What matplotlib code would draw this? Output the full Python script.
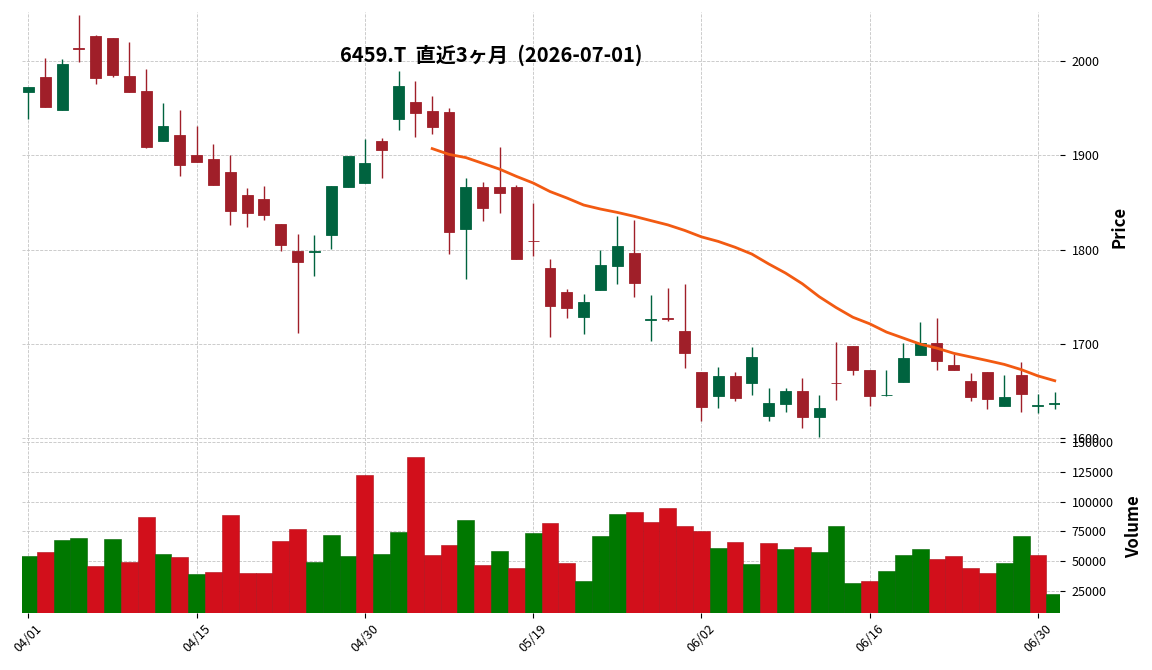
import numpy as np
import pandas as pd
import matplotlib
matplotlib.use("Agg")
import matplotlib.pyplot as plt

plt.rcParams['font.family'] = ['Noto Sans CJK JP', 'DejaVu Sans']

# daily OHLC + volume, 6459.T, 2026-04-01 .. 2026-07-01 (62 sessions)
opens = [1967, 1983, 1948, 2013.5, 2027, 2024, 1984, 1968, 1915, 1922,
         1900, 1896, 1882, 1858, 1853.5, 1827, 1798.5, 1797, 1815, 1866,
         1871, 1915, 1938.5, 1957, 1947, 1945.5, 1822, 1866, 1866, 1866,
         1809.5, 1780, 1754.5, 1729, 1757.5, 1783, 1796, 1725.5, 1727, 1713.5,
         1670, 1645, 1666, 1659, 1624, 1636.5, 1650, 1622, 1658.5, 1697.5,
         1672.5, 1645.5, 1660, 1688.5, 1700.5, 1677.5, 1660.5, 1670, 1634.5, 1666.5,
         1634.5, 1636]
highs = [1972, 2003.5, 2002.5, 2049, 2027.5, 2024, 2020.5, 1992, 1956, 1948,
         1931.5, 1912.5, 1900, 1865, 1867, 1827, 1817, 1816, 1867, 1899,
         1917, 1918, 1989, 1979, 1963, 1950.5, 1876, 1872, 1909, 1869,
         1849, 1790.5, 1758, 1752.5, 1800, 1836, 1831, 1752, 1759, 1764,
         1670, 1675, 1670, 1697, 1653, 1653, 1663.5, 1645.5, 1701.5, 1698,
         1672.5, 1672, 1700.5, 1723, 1727, 1689.5, 1669.5, 1670, 1666.5, 1680.5,
         1647, 1648.5]
lows = [1939, 1951, 1948, 1999, 1976, 1983, 1967, 1908, 1915, 1878,
        1893, 1868, 1826, 1824, 1831, 1798, 1712, 1772, 1801, 1866,
        1871, 1876, 1927, 1919, 1923, 1795, 1769, 1830, 1839, 1790,
        1793, 1707.5, 1727, 1711, 1757, 1764, 1749.5, 1703, 1724, 1674,
        1618, 1632, 1639.5, 1646, 1618, 1627.5, 1610.5, 1601, 1641, 1666.5,
        1634.5, 1645, 1660, 1688, 1672.5, 1672, 1639.5, 1630.5, 1634, 1627.5,
        1626.5, 1630.5]
closes = [1972, 1951, 1996.5, 2013, 1982, 1985, 1967, 1909, 1931.5, 1890,
          1893, 1868, 1841, 1839, 1836.5, 1805, 1787, 1798, 1867, 1899,
          1892, 1906, 1974, 1945, 1930, 1819, 1866, 1844, 1860, 1790,
          1809, 1740.5, 1738.5, 1744.5, 1783.5, 1803.5, 1765, 1726.5, 1726, 1690.5,
          1633.5, 1666, 1643, 1686, 1637.5, 1650, 1622, 1632, 1658, 1672.5,
          1645, 1646, 1685, 1700.5, 1682, 1672.5, 1644, 1642, 1643.5, 1647,
          1635, 1637]
volumes = [54400, 57800, 67800, 69400, 46100, 68600, 49400, 86900, 56100, 53600,
           39400, 41100, 88600, 40300, 40300, 66900, 76900, 49400, 71900, 54400,
           121900, 56100, 74400, 136900, 55300, 63600, 84400, 46900, 58600, 44400,
           73600, 81900, 48600, 33600, 71100, 89400, 91100, 82800, 94400, 79400,
           75300, 61100, 66100, 47800, 65300, 60300, 61900, 57800, 79400, 31900,
           33600, 41900, 55300, 60300, 51900, 54400, 44400, 40300, 48900, 71100,
           55300, 22800]

tick_pos = [0, 10, 20, 30, 40, 50, 60]
tick_labels = ["04/01", "04/15", "04/30", "05/19", "06/02", "06/16", "06/30"]

df = pd.DataFrame({"Open": opens, "High": highs, "Low": lows,
                   "Close": closes, "Volume": volumes})
df["MA25"] = df["Close"].rolling(25).mean()
x = np.arange(len(df))

up_c = "#00633f"
dn_c = "#a01f29"
vol_up = "#007800"
vol_dn = "#d20f1b"

fig = plt.figure(figsize=(11.52, 6.7), dpi=100)
ax = fig.add_axes([0.0191, 0.3418, 0.901, 0.6403])
axv = fig.add_axes([0.0191, 0.0851, 0.901, 0.2567], sharex=ax)

# candles
candle_up = df["Close"] >= df["Open"]
ccol = np.where(candle_up, up_c, dn_c)
ax.vlines(x, df["Low"], df["High"], colors=ccol, linewidth=1.0, zorder=2)
body_bot = np.minimum(df["Open"], df["Close"])
body_h = (df["Close"] - df["Open"]).abs()
ax.bar(x, body_h, width=0.65, bottom=body_bot, color=ccol,
       edgecolor=ccol, linewidth=0.6, zorder=3)

ax.plot(x, df["MA25"], color="#f25a12", linewidth=2.0, zorder=4)

# volume, coloured by close vs previous close
vup = df["Close"].diff().fillna(1) >= 0
vcol = np.where(vup, vol_up, vol_dn)
vedge = np.where(vup, "#006400", "#b00c16")
axv.bar(x, df["Volume"], width=1.0, color=vcol, edgecolor=vedge,
        linewidth=0.4, zorder=2)

ax.set_xlim(-0.38, 61.31)
ax.set_ylim(1597, 2052)
axv.set_ylim(0.3 * df["Volume"].min(), 1.1 * df["Volume"].max())

ax.set_yticks([1600, 1700, 1800, 1900, 2000])
axv.set_yticks([25000, 50000, 75000, 100000, 125000, 150000])
axv.set_xticks(tick_pos)
axv.set_xticklabels(tick_labels, rotation=45, ha="center")

for a in (ax, axv):
    for s in a.spines.values():
        s.set_visible(False)
    a.grid(True, linestyle="--", color="#c4c4c4", linewidth=0.6, zorder=0)
    a.set_axisbelow(True)
    a.yaxis.tick_right()
    a.yaxis.set_label_position("right")
    a.tick_params(axis="both", labelsize=9, length=3.5, width=0.8)
    a.tick_params(axis="y", pad=5)

ax.tick_params(axis="x", bottom=False, labelbottom=False)
ax.set_ylabel("Price", fontsize=12, fontweight="bold", labelpad=8)
axv.set_ylabel("Volume", fontsize=12, fontweight="bold", labelpad=8)

fig.text(0.4262, 0.918, "6459.T  直近3ヶ月  (2026-07-01)", ha="center",
         va="center", fontsize=14.5, fontweight="bold")

plt.savefig("out.png", dpi=100)
plt.close()
